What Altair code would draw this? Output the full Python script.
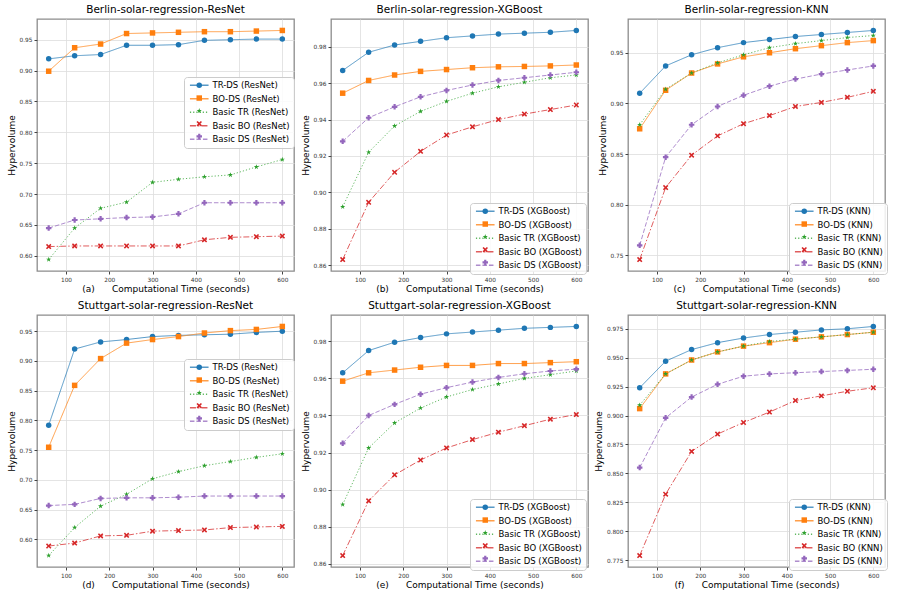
import altair as alt
import pandas as pd

x_times = [60, 120, 180, 240, 300, 360, 420, 480, 540, 600]
methods = ["TR-DS", "BO-DS", "Basic TR", "Basic BO", "Basic DS"]
x_ticks = [100, 200, 300, 400, 500, 600]

# (a) Berlin ResNet
a_trds = [0.919, 0.924, 0.926, 0.941, 0.941, 0.942, 0.949, 0.950, 0.951, 0.951]
a_bods = [0.899, 0.937, 0.943, 0.960, 0.961, 0.962, 0.963, 0.963, 0.964, 0.965]
a_btr = [0.594, 0.645, 0.677, 0.687, 0.719, 0.724, 0.728, 0.731, 0.744, 0.756]
a_bbo = [0.615, 0.616, 0.616, 0.616, 0.616, 0.616, 0.626, 0.630, 0.631, 0.632]
a_bds = [0.645, 0.658, 0.660, 0.662, 0.663, 0.668, 0.686, 0.686, 0.686, 0.686]
a_ticks = [0.60, 0.65, 0.70, 0.75, 0.80, 0.85, 0.90, 0.95]

# (b) Berlin XGBoost
b_trds = [0.967, 0.977, 0.981, 0.983, 0.985, 0.986, 0.987, 0.9875, 0.988, 0.989]
b_bods = [0.9545, 0.9615, 0.9645, 0.9665, 0.9675, 0.9685, 0.969, 0.9692, 0.9695, 0.970]
b_btr = [0.892, 0.922, 0.9365, 0.9445, 0.950, 0.9545, 0.958, 0.9605, 0.963, 0.9645]
b_bbo = [0.863, 0.8945, 0.911, 0.9225, 0.9315, 0.936, 0.940, 0.943, 0.9455, 0.948]
b_bds = [0.928, 0.941, 0.947, 0.9525, 0.956, 0.959, 0.9615, 0.963, 0.9645, 0.966]
b_ticks = [0.86, 0.88, 0.90, 0.92, 0.94, 0.96, 0.98]

# (c) Berlin KNN
c_trds = [0.910, 0.937, 0.948, 0.955, 0.960, 0.963, 0.966, 0.968, 0.970, 0.972]
c_bods = [0.875, 0.913, 0.930, 0.939, 0.946, 0.950, 0.954, 0.957, 0.960, 0.962]
c_btr = [0.879, 0.914, 0.930, 0.940, 0.948, 0.955, 0.959, 0.962, 0.965, 0.967]
c_bbo = [0.746, 0.817, 0.849, 0.868, 0.880, 0.888, 0.897, 0.901, 0.906, 0.912]
c_bds = [0.760, 0.847, 0.879, 0.897, 0.908, 0.917, 0.924, 0.929, 0.933, 0.937]
c_ticks = [0.75, 0.80, 0.85, 0.90, 0.95]

# (d) Stuttgart ResNet
d_trds = [0.792, 0.920, 0.932, 0.936, 0.941, 0.943, 0.944, 0.945, 0.948, 0.950]
d_bods = [0.755, 0.859, 0.904, 0.930, 0.936, 0.941, 0.947, 0.951, 0.953, 0.958]
d_btr = [0.573, 0.620, 0.656, 0.676, 0.702, 0.714, 0.724, 0.731, 0.738, 0.744]
d_bbo = [0.589, 0.594, 0.606, 0.607, 0.614, 0.615, 0.616, 0.620, 0.621, 0.622]
d_bds = [0.657, 0.659, 0.669, 0.670, 0.670, 0.671, 0.673, 0.673, 0.673, 0.673]
d_ticks = [0.60, 0.65, 0.70, 0.75, 0.80, 0.85, 0.90, 0.95]

# (e) Stuttgart XGBoost
e_trds = [0.963, 0.975, 0.9795, 0.982, 0.984, 0.985, 0.986, 0.987, 0.9875, 0.988]
e_bods = [0.9585, 0.963, 0.9645, 0.966, 0.967, 0.967, 0.968, 0.968, 0.9685, 0.969]
e_btr = [0.892, 0.9225, 0.936, 0.944, 0.950, 0.954, 0.957, 0.960, 0.962, 0.964]
e_bbo = [0.8645, 0.894, 0.908, 0.916, 0.9225, 0.927, 0.931, 0.9345, 0.938, 0.9405]
e_bds = [0.925, 0.940, 0.946, 0.9515, 0.955, 0.958, 0.9605, 0.9625, 0.964, 0.965]
e_ticks = [0.86, 0.88, 0.90, 0.92, 0.94, 0.96, 0.98]

# (f) Stuttgart KNN
f_trds = [0.924, 0.947, 0.957, 0.963, 0.967, 0.970, 0.972, 0.974, 0.975, 0.977]
f_bods = [0.906, 0.936, 0.948, 0.955, 0.960, 0.963, 0.966, 0.968, 0.970, 0.972]
f_btr = [0.909, 0.936, 0.948, 0.955, 0.960, 0.964, 0.966, 0.968, 0.970, 0.972]
f_bbo = [0.779, 0.832, 0.869, 0.884, 0.894, 0.903, 0.913, 0.917, 0.921, 0.924]
f_bds = [0.855, 0.898, 0.916, 0.927, 0.934, 0.936, 0.937, 0.938, 0.939, 0.940]
f_ticks = [0.775, 0.800, 0.825, 0.850, 0.875, 0.900, 0.925, 0.950, 0.975]

colors = ["#1f77b4", "#ff7f0e", "#2ca02c", "#d62728", "#9467bd"]
dashes = [[1, 0], [1, 0], [1.2, 2], [6, 2, 1.5, 2], [4.5, 2]]
STAR = "M0,-1L0.2245,-0.309L0.951,-0.309L0.363,0.118L0.588,0.809L0,0.382L-0.588,0.809L-0.363,0.118L-0.951,-0.309L-0.2245,-0.309Z"
XSHAPE = "M-1,-0.6L-0.6,-1L0,-0.4L0.6,-1L1,-0.6L0.4,0L1,0.6L0.6,1L0,0.4L-0.6,1L-1,0.6L-0.4,0Z"
shapes = ["circle", "square", STAR, XSHAPE, "cross"]

W, H = 257, 252
FONT = "DejaVu Sans"
NB = "\u00a0"
ZW = "\u200b"


def panel(letter, city, model, series, yticks, yfmt, lx, ly):
    labels = [f"{m} ({model})" for m in methods]
    mlabels = [lab + ZW for lab in labels]
    rows = []
    for lab, mlab, vals in zip(labels, mlabels, series):
        for t, v in zip(x_times, vals):
            rows.append({"t": t, "hv": v, "series": lab, "series_m": mlab})
    df = pd.DataFrame(rows)
    allv = [v for s in series for v in s]
    lo, hi = min(allv), max(allv)
    mg = (hi - lo) * 0.05
    xm = (x_times[-1] - x_times[0]) * 0.05
    x = alt.X("t:Q", scale=alt.Scale(domain=[x_times[0] - xm, x_times[-1] + xm], nice=False, zero=False),
              axis=alt.Axis(values=x_ticks, title=f"({letter})" + NB * 6 + "Computational Time (seconds)"))
    y = alt.Y("hv:Q", scale=alt.Scale(domain=[lo - mg, hi + mg], nice=False, zero=False),
              axis=alt.Axis(values=yticks, format=yfmt, title="Hypervolume"))
    common = dict(title=None, orient="none", legendX=lx, legendY=ly, symbolSize=30,
                  symbolOffset=7, labelOffset=9, labelFontSize=8.5, labelFont=FONT, padding=4)
    # line legend carries the box and labels; marker legend sits on top of it
    leg_line = alt.Legend(symbolType="M-3.4,0H3.4", symbolStrokeWidth=1.5,
                          fillColor="rgba(255,255,255,0.85)", strokeColor="#cccccc",
                          cornerRadius=3, labelColor="#000000", zindex=1, rowPadding=4.5, **common)
    leg_pt = alt.Legend(labelOpacity=0, zindex=5, rowPadding=0.8, **common)
    lines = alt.Chart(df).mark_line(strokeWidth=1, opacity=0.75).encode(
        x=x, y=y,
        stroke=alt.Stroke("series:N", scale=alt.Scale(domain=labels, range=colors), legend=leg_line),
        strokeDash=alt.StrokeDash("series:N", scale=alt.Scale(domain=labels, range=dashes), legend=leg_line),
    )
    pts = alt.Chart(df).mark_point(filled=True, opacity=1, size=30).encode(
        x=x, y=y,
        fill=alt.Fill("series_m:N", scale=alt.Scale(domain=mlabels, range=colors), legend=leg_pt),
        shape=alt.Shape("series_m:N", scale=alt.Scale(domain=mlabels, range=shapes), legend=leg_pt),
    )
    return alt.layer(lines, pts).properties(
        width=W, height=H, title=f"{city}-solar-regression-{model}"
    )


pa = panel("a", "Berlin", "ResNet", [a_trds, a_bods, a_btr, a_bbo, a_bds], a_ticks, ".2f", 147, 58)
pb = panel("b", "Berlin", "XGBoost", [b_trds, b_bods, b_btr, b_bbo, b_bds], b_ticks, ".2f", 139, 184)
pc = panel("c", "Berlin", "KNN", [c_trds, c_bods, c_btr, c_bbo, c_bds], c_ticks, ".2f", 161, 184)
pd_ = panel("d", "Stuttgart", "ResNet", [d_trds, d_bods, d_btr, d_bbo, d_bds], d_ticks, ".2f", 147, 44)
pe = panel("e", "Stuttgart", "XGBoost", [e_trds, e_bods, e_btr, e_bbo, e_bds], e_ticks, ".2f", 139, 184)
pf = panel("f", "Stuttgart", "KNN", [f_trds, f_bods, f_btr, f_bbo, f_bds], f_ticks, ".3f", 161, 184)

chart = alt.concat(pa, pb, pc, pd_, pe, pf, columns=3, spacing={"row": 4, "column": 4}).resolve_scale(
    x="independent", y="independent", stroke="independent", strokeDash="independent",
    fill="independent", shape="independent"
).resolve_legend(
    stroke="independent", strokeDash="independent", fill="independent", shape="independent"
).properties(
    padding={"left": 6, "top": 3, "right": 4, "bottom": 2}, background="white"
).configure(font=FONT).configure_view(
    stroke="#8c8c8c", strokeWidth=1.3
).configure_axis(
    labelFontSize=5.8, labelColor="#333333", labelFont=FONT,
    titleFontSize=9, titleFontWeight="normal", titleColor="#000000", titleFont=FONT,
    tickColor="#444444", tickSize=3, domain=False,
    gridColor="#dddddd", gridWidth=0.8, labelPadding=2, titlePadding=3
).configure_title(
    fontSize=10.5, font=FONT, fontWeight="normal", color="#000000", offset=4
)

chart.save("out.html", embed_options={"renderer": "svg", "actions": False})
